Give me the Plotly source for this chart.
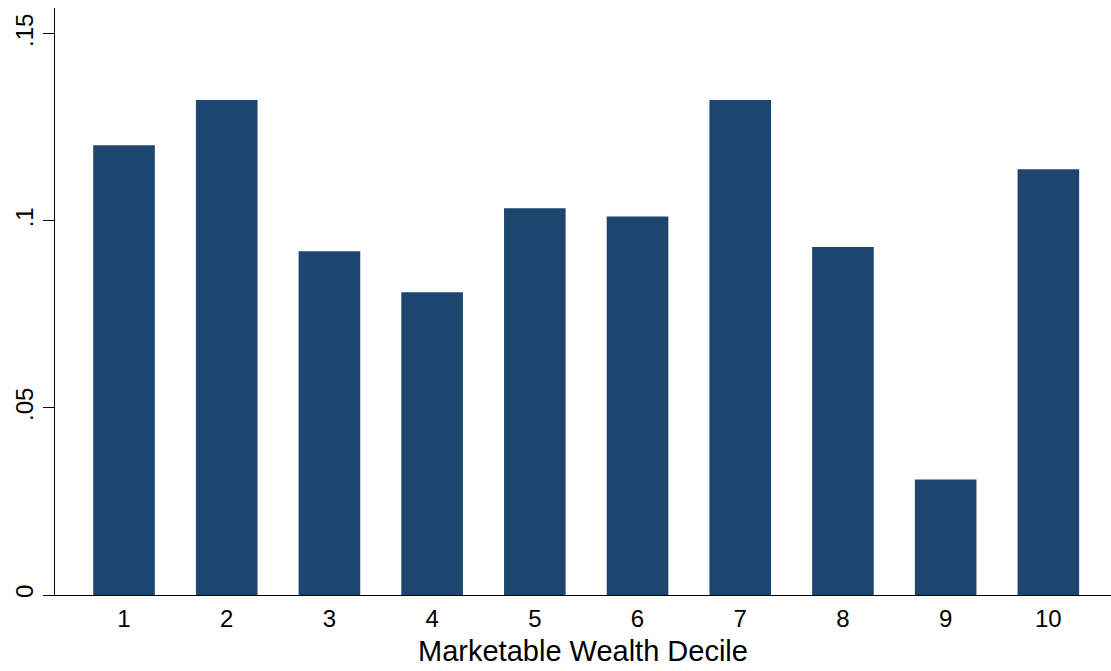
import plotly.graph_objects as go

deciles = [1, 2, 3, 4, 5, 6, 7, 8, 9, 10]
shares = [0.1202, 0.1323, 0.0919, 0.0809, 0.1034, 0.1012, 0.1323, 0.0930, 0.0309, 0.1138]
y_tickvals = [0, 0.05, 0.10, 0.15]
y_ticktext = ["0", ".05", ".1", ".15"]
x_title = "Marketable Wealth Decile"

fig = go.Figure(go.Bar(x=deciles, y=shares, width=0.6, marker=dict(color="#1c4670", line=dict(width=0))))

fig.update_layout(
    width=1111, height=671,
    margin=dict(l=55, r=0, t=8, b=76),
    paper_bgcolor="white", plot_bgcolor="white",
    font=dict(family="Liberation Sans, Arial, sans-serif", size=24, color="black"),
    showlegend=False,
)
fig.update_xaxes(
    range=[0.328, 10.61], tickvals=deciles, ticktext=[str(d) for d in deciles],
    showline=True, linecolor="black", linewidth=1.3, ticks="", showgrid=False, zeroline=False,
    title=dict(text=x_title, font=dict(size=29), standoff=9),
    ticklabelstandoff=2,
)
fig.update_yaxes(
    range=[0, 0.1569], tickvals=y_tickvals, ticktext=y_ticktext, tickangle=-90,
    showline=True, linecolor="black", linewidth=1.3, ticks="outside", ticklen=11, tickwidth=1.3,
    tickcolor="black", showgrid=False, zeroline=False, ticklabelstandoff=0,
)
fig.write_html("out.html", config={"displayModeBar": False},
               post_script="document.body.style.margin='0';document.body.style.overflow='hidden';")
